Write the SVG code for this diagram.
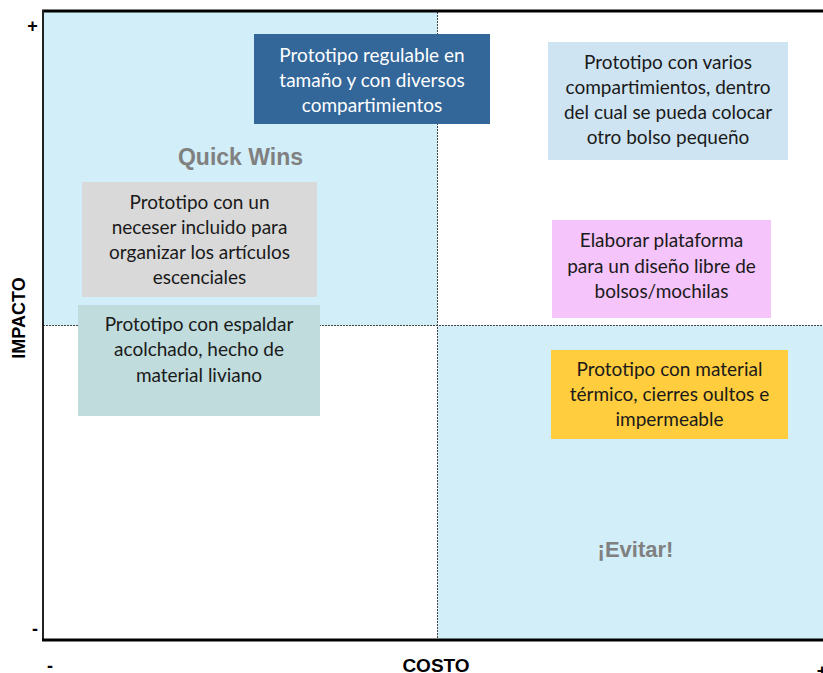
<svg xmlns="http://www.w3.org/2000/svg" width="823" height="673" viewBox="0 0 823 673">
<style>
.box text{font-family:Lato,"Liberation Sans",sans-serif;font-size:19px;text-anchor:middle;fill:#1a1a1a}
.box.dark text{fill:#ffffff}
.ax{font-family:"Liberation Sans",Arial,sans-serif;font-weight:bold;fill:#000}
.qlabel{font-family:"Liberation Sans",Arial,sans-serif;font-weight:bold;fill:#808080;text-anchor:middle}
.div{stroke:#444;stroke-width:1;stroke-dasharray:2 1;fill:none}
</style>
<rect x="0" y="0" width="823" height="673" fill="#ffffff"/>
<g id="quadrants">
<rect x="43" y="11" width="394.5" height="314.5" fill="#D1EEF9"/>
<rect x="437.5" y="325.5" width="385.5" height="314" fill="#D1EEF9"/>
</g>
<g id="axes">
<line class="div" x1="437.5" y1="12" x2="437.5" y2="639"/>
<line class="div" x1="43" y1="325.5" x2="823" y2="325.5"/>
<line x1="42" y1="11" x2="823" y2="11" stroke="#000" stroke-width="3"/>
<line x1="43" y1="10" x2="43" y2="641" stroke="#222" stroke-width="2"/>
<line x1="42" y1="640" x2="823" y2="640" stroke="#000" stroke-width="3"/>
<text class="ax" x="32.5" y="32" font-size="18" text-anchor="middle">+</text>
<text class="ax" x="35" y="635" font-size="18" text-anchor="middle">-</text>
<text class="ax" x="50" y="672" font-size="18" text-anchor="middle">-</text>
<text class="ax" x="822" y="677" font-size="18" text-anchor="middle">+</text>
<text class="ax" x="436" y="671.5" font-size="19" text-anchor="middle">COSTO</text>
<text class="ax" font-size="18" text-anchor="middle" transform="translate(25,318) rotate(-90)">IMPACTO</text>
</g>
<g id="quick-wins"><text class="qlabel" x="240.5" y="164.5" font-size="23">Quick Wins</text></g>
<g id="evitar"><text class="qlabel" x="635.5" y="556.5" font-size="22">¡Evitar!</text></g>
<g id="connectors"></g>
<g id="node-regulable" class="box dark">
<rect x="254" y="34" width="236" height="90" fill="#336699"/>
<text x="372" y="62">Prototipo regulable en</text>
<text x="372" y="87">tamaño y con diversos</text>
<text x="372" y="112">compartimientos</text>
</g>
<g id="node-varios" class="box">
<rect x="548" y="42" width="240" height="118" fill="#CFE4F3"/>
<text x="668" y="69">Prototipo con varios</text>
<text x="668" y="94">compartimientos, dentro</text>
<text x="668" y="119">del cual se pueda colocar</text>
<text x="668" y="144">otro bolso pequeño</text>
</g>
<g id="node-neceser" class="box">
<rect x="82" y="182" width="235" height="115" fill="#D9D9D9"/>
<text x="199.5" y="209">Prototipo con un</text>
<text x="199.5" y="234">neceser incluido para</text>
<text x="199.5" y="259">organizar los artículos</text>
<text x="199.5" y="284">escenciales</text>
</g>
<g id="node-plataforma" class="box">
<rect x="552" y="220" width="219" height="98" fill="#F4C4FB"/>
<text x="661.5" y="247">Elaborar plataforma</text>
<text x="661.5" y="272.5">para un diseño libre de</text>
<text x="661.5" y="298">bolsos/mochilas</text>
</g>
<g id="node-espaldar" class="box">
<rect x="78" y="305" width="242" height="111" fill="#C0DCDC"/>
<text x="199" y="331">Prototipo con espaldar</text>
<text x="199" y="356">acolchado, hecho de</text>
<text x="199" y="381.5">material liviano</text>
</g>
<g id="node-termico" class="box">
<rect x="551" y="350" width="237" height="89" fill="#FFCD3D"/>
<text x="669.5" y="376">Prototipo con material</text>
<text x="669.5" y="401">térmico, cierres oultos e</text>
<text x="669.5" y="426">impermeable</text>
</g>
</svg>
